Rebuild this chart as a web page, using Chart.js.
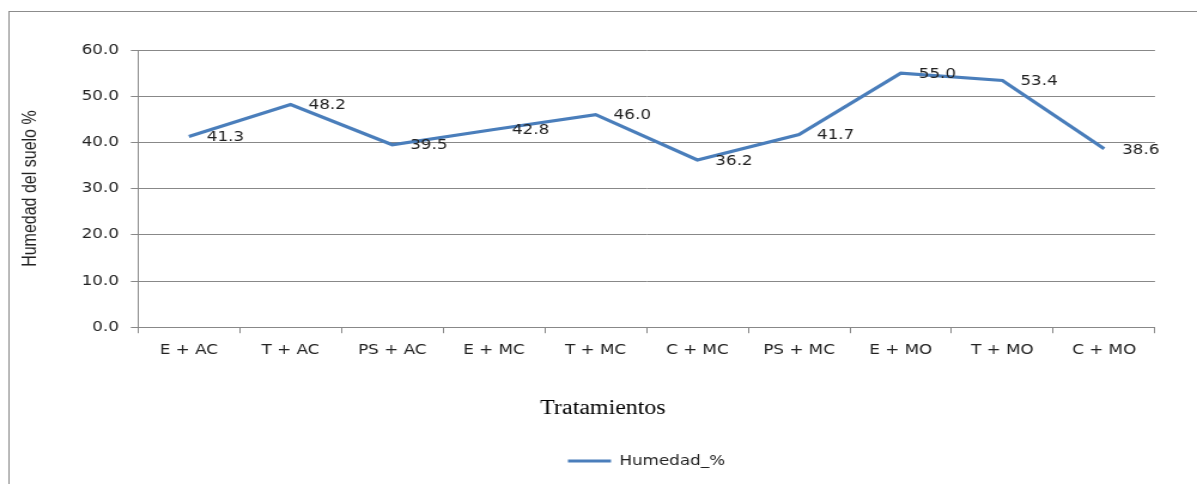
<!DOCTYPE html>
<html>
<head>
<meta charset="utf-8">
<script src="https://cdn.jsdelivr.net/npm/chart.js@4/dist/chart.umd.min.js"></script>
<style>
  html, body { margin: 0; padding: 0; background: #fff; overflow: hidden; }
  #wrap { width: 1000px; height: 484px; transform: scaleX(1.197); transform-origin: 0 0; }
  canvas { display: block; }
</style>
</head>
<body>
<div id="wrap"><canvas id="c" width="1000" height="484"></canvas></div>
<script>
// Soil moisture per treatment
const categories = ['E + AC', 'T + AC', 'PS + AC', 'E + MC', 'T + MC', 'C + MC', 'PS + MC', 'E + MO', 'T + MO', 'C + MO'];
const humedad = [41.3, 48.2, 39.5, 42.8, 46.0, 36.2, 41.7, 55.0, 53.4, 38.6];
const yTicks = [0, 10, 20, 30, 40, 50, 60];

const seriesName = 'Humedad_%';
const axisTitleY = 'Humedad del suelo %';
const axisTitleX = 'Tratamientos';

const GRID = '#888888';
const LINE = '#4A7EBB';
const TEXT = '#222222';

// Thin outer frame around the whole chart
const framePlugin = {
  id: 'frame',
  beforeDraw(chart) {
    const ctx = chart.ctx;
    ctx.save();
    ctx.strokeStyle = '#8c8c8c';
    ctx.lineWidth = 1;
    ctx.strokeRect(7.5, 11.5, 1100, 600);
    ctx.restore();
  }
};

// Value labels drawn to the right of each point
const valueLabels = {
  id: 'valueLabels',
  afterDatasetsDraw(chart) {
    const ctx = chart.ctx;
    ctx.save();
    ctx.font = '14px "DejaVu Sans"';
    ctx.fillStyle = TEXT;
    ctx.textAlign = 'left';
    ctx.textBaseline = 'middle';
    chart.getDatasetMeta(0).data.forEach((pt, i) => {
      ctx.fillText(humedad[i].toFixed(1), pt.x + 15, pt.y + 1);
    });
    ctx.restore();
  }
};

new Chart(document.getElementById('c'), {
  type: 'line',
  data: {
    labels: categories,
    datasets: [{
      label: seriesName,
      data: humedad,
      borderColor: LINE,
      backgroundColor: LINE,
      borderWidth: 3.2,
      pointRadius: 0,
      pointHoverRadius: 0,
      pointStyle: 'line',
      tension: 0,
      fill: false
    }]
  },
  options: {
    responsive: false,
    animation: false,
    events: [],
    layout: { padding: { left: 7.5, right: 0, top: 50, bottom: 6 } },
    scales: {
      x: {
        type: 'category',
        offset: true,
        grid: { offset: true, drawOnChartArea: false, drawTicks: true, tickLength: 6, color: GRID, lineWidth: 1 },
        border: { display: true, color: GRID, width: 1 },
        ticks: { font: { family: 'DejaVu Sans', size: 14 }, color: TEXT, padding: 9, maxRotation: 0, autoSkip: false }
      },
      y: {
        type: 'linear',
        position: 'left',
        min: 0,
        max: 60,
        afterBuildTicks(scale) { scale.ticks = yTicks.map(v => ({ value: v })); },
        afterFit(scale) { scale.width = 107.8; },
        grid: { drawTicks: true, tickLength: 6, color: GRID, lineWidth: 1 },
        border: { display: true, color: GRID, width: 1 },
        ticks: {
          font: { family: 'DejaVu Sans', size: 14 },
          color: TEXT,
          padding: 10,
          callback: v => Number(v).toFixed(1)
        },
        title: {
          display: true,
          text: axisTitleY,
          font: { family: 'Liberation Sans', size: 16 },
          color: TEXT,
          padding: { top: 8, bottom: 0 }
        }
      },
      yRight: {
        type: 'linear',
        position: 'right',
        display: true,
        grid: { display: false, drawTicks: false },
        border: { display: false },
        ticks: { display: false },
        afterFit(scale) { scale.width = 35.1; }
      }
    },
    plugins: {
      title: {
        display: true,
        position: 'bottom',
        text: axisTitleX,
        weight: 500,
        color: '#000',
        font: { family: 'Liberation Serif', size: 20, weight: 'normal' },
        padding: { top: 29, bottom: 23 }
      },
      legend: {
        display: true,
        position: 'bottom',
        fullSize: false,
        labels: {
          usePointStyle: true,
          pointStyle: 'line',
          pointStyleWidth: 36,
          color: TEXT,
          font: { family: 'DejaVu Sans', size: 14 },
          padding: 10
        }
      },
      tooltip: { enabled: false }
    }
  },
  plugins: [framePlugin, valueLabels]
});
</script>
</body>
</html>
